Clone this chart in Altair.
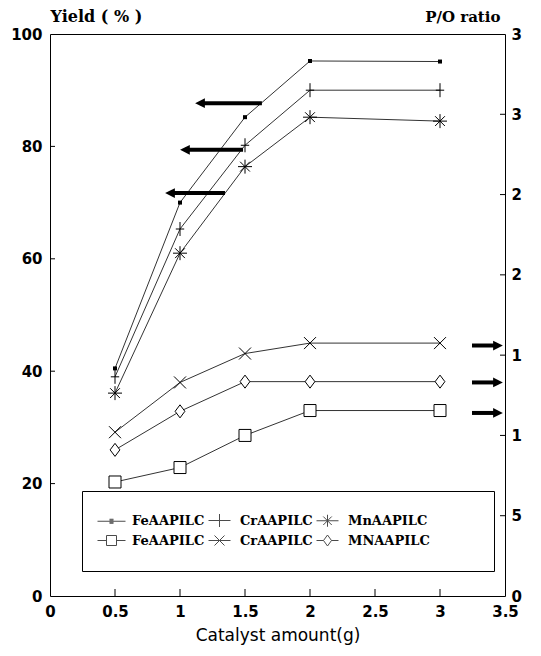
import altair as alt
import pandas as pd

# ---------------- data ----------------
catalyst = [0.5, 1.0, 1.5, 2.0, 3.0]
yield_fe = [40.5, 70.0, 85.2, 95.2, 95.1]
yield_cr = [39.0, 65.3, 80.2, 90.0, 90.0]
yield_mn = [36.1, 61.0, 76.4, 85.2, 84.5]
po_fe = [0.71, 0.80, 1.00, 1.155, 1.155]
po_cr = [1.02, 1.33, 1.51, 1.575, 1.575]
po_mn = [0.91, 1.15, 1.335, 1.335, 1.335]

x_ticks = [0, 0.5, 1, 1.5, 2, 2.5, 3, 3.5]
x_inner_ticks = [0.5, 1, 1.5, 2, 2.5, 3]
yield_ticks = [0, 20, 40, 60, 80, 100]
yield_inner_ticks = [20, 40, 60, 80]
po_ticks = [0, 0.5, 1, 1.5, 2, 2.5, 3, 3.5]
po_inner_ticks = [0.5, 1, 1.5, 2, 2.5, 3]

# legend entries in column-major order (2 rows x 3 columns)
legend_keys = ["fe_y", "fe_po", "cr_y", "cr_po", "mn_y", "mn_po"]
legend_labels = ["FeAAPILC", "FeAAPILC", "CrAAPILC", "CrAAPILC", "MnAAPILC", "MNAAPILC"]

left_arrow_head = [1.154, 1.038, 0.923]
left_arrow_tail = [1.63, 1.485, 1.346]
left_arrow_y = [87.7, 79.4, 71.7]
right_arrow_tail = [3.246, 3.246, 3.246]
right_arrow_head = [3.446, 3.446, 3.446]
right_arrow_y = [1.56, 1.33, 1.14]

# ---------------- styles ----------------
W, H = 455, 562
TICK_FONT = "DejaVu Sans"
SERIF = "DejaVu Serif"

P_DOT = "square"
P_PLUS = "M0,-1V1M-0.6,0H0.6"
P_STAR = "M0,-1V1M-1,0H1M-0.7,-0.7L0.7,0.7M-0.7,0.7L0.7,-0.7"
P_X = "M-1,-1L1,1M-1,1L1,-1"
P_DIAMOND = "M0,-1L0.75,0L0,1L-0.75,0Z"
P_SQUARE = "M-1,-1H1V1H-1Z"

L_DOT = "M-2.8,0H2.8M-0.4,-0.4H0.4M-0.4,-0.2H0.4M-0.4,0.2H0.4M-0.4,0.4H0.4"
L_PLUS = "M-2.2,0H2.2M0,-1.3V1.3"
L_STAR = "M-2.2,0H2.2M0,-1.2V1.2M-0.85,-0.85L0.85,0.85M-0.85,0.85L0.85,-0.85"
L_SQUARE = "M-2.8,0H-1M1,0H2.8M-1,-1H1V1H-1Z"
L_X = "M-2.2,0H2.2M-1,-1L1,1M-1,1L1,-1"
L_DIAMOND = "M-2.2,0H-0.8M0.8,0H2.2M0,-1.1L0.8,0L0,1.1L-0.8,0Z"
legend_paths = [L_DOT, L_SQUARE, L_PLUS, L_X, L_STAR, L_DIAMOND]

HEAD_LEFT = "M-1,0L1,-1L1,1Z"
HEAD_RIGHT = "M1,0L-1,-1L-1,1Z"

x_scale = alt.Scale(domain=[0, 3.5], nice=False, zero=False)
x_axis = alt.Axis(values=x_ticks, title="Catalyst amount(g)", format="~g", labelFlush=False,
                  labelOverlap=False, ticks=False, domain=False, grid=False,
                  labelPadding=8, labelFont=TICK_FONT, labelFontSize=15,
                  labelFontWeight="bold", labelColor="black",
                  titleFont=TICK_FONT, titleFontSize=17, titleFontWeight="normal",
                  titleColor="black", titleY=31, titleBaseline="top")
y_scale = alt.Scale(domain=[0, 100], nice=False, zero=True)
y_axis = alt.Axis(values=yield_ticks, title="Yield ( % )", orient="left",
                  labelOverlap=False, ticks=False, domain=False, grid=False,
                  labelPadding=8, labelFont=TICK_FONT, labelFontSize=15,
                  labelFontWeight="bold", labelColor="black",
                  titleFont=SERIF, titleFontSize=16, titleFontWeight="bold",
                  titleColor="black", titleAngle=0, titleX=0, titleY=-13,
                  titleAlign="left", titleBaseline="alphabetic")
po_scale = alt.Scale(domain=[0, 3.5], nice=False, zero=True)
po_axis = alt.Axis(values=po_ticks, title="P/O ratio", orient="right",
                   labelExpr="datum.value == 0.5 ? '5' : '' + floor(datum.value)",
                   labelOverlap=False, ticks=False, domain=False, grid=False,
                   labelPadding=6, labelFont=TICK_FONT, labelFontSize=15,
                   labelFontWeight="bold", labelColor="black",
                   titleFont=SERIF, titleFontSize=15, titleFontWeight="bold",
                   titleColor="black", titleAngle=0, titleX=-5, titleY=-13,
                   titleAlign="right", titleBaseline="alphabetic")


def X():
    return alt.X("x:Q", scale=x_scale, axis=x_axis)


def Y():
    return alt.Y("y:Q", scale=y_scale, axis=y_axis)


def YP():
    return alt.Y("y:Q", scale=po_scale, axis=po_axis)


def long(series_dict):
    rows = []
    for name, vals in series_dict.items():
        for xv, yv in zip(catalyst, vals):
            rows.append({"series": name, "x": xv, "y": yv})
    return pd.DataFrame(rows)


yield_df = long({"fe": yield_fe, "cr": yield_cr, "mn": yield_mn})
po_df = long({"fe": po_fe, "cr": po_cr, "mn": po_mn})

LINE_COLOR = "#333333"

# ---------------- left (yield) layer ----------------
y_lines = alt.Chart(yield_df).mark_line(color=LINE_COLOR, strokeWidth=1).encode(
    x=X(), y=Y(), detail="series:N")

y_marks = []
for name, shape, size, filled in [("fe", P_DOT, 16, True), ("cr", P_PLUS, 196, False),
                                  ("mn", P_STAR, 196, False)]:
    y_marks.append(
        alt.Chart(yield_df).transform_filter(alt.datum.series == name)
        .mark_point(shape=shape, size=size, filled=filled, color="black",
                    strokeWidth=1, opacity=1)
        .encode(x=X(), y=Y()))

la_df = pd.DataFrame({"x": left_arrow_tail, "x2": left_arrow_head, "y": left_arrow_y})
la_rule = alt.Chart(la_df).mark_rule(color="black", strokeWidth=4).encode(
    x=X(), x2="x2:Q", y=Y())
la_head = alt.Chart(la_df).mark_point(shape=HEAD_LEFT, size=95, filled=True,
                                      color="black", opacity=1).encode(
    x=alt.X("x2:Q", scale=x_scale, axis=x_axis), y=Y())

xt = alt.Chart(pd.DataFrame({"x": x_inner_ticks})).mark_rule(color="black", strokeWidth=1).encode(
    x=X(), y=alt.value(H), y2=alt.value(H - 7))
yt = alt.Chart(pd.DataFrame({"y": yield_inner_ticks})).mark_rule(color="black", strokeWidth=1).encode(
    y=Y(), x=alt.value(0), x2=alt.value(5))

NB = "\u00a0"
label_expr = ""
for k, lab in zip(legend_keys, legend_labels):
    pad = (NB * 9 + "\u200b") if k.startswith("mn") else ""
    label_expr += f"datum.label == '{k}' ? '{lab}{pad}' : "
label_expr += "''"

legend_df = pd.DataFrame({"k": legend_keys, "x": [1.0] * 6, "y": [50.0] * 6})
legend_layer = alt.Chart(legend_df).transform_filter("false").mark_point(
    color="black", filled=False, strokeWidth=1).encode(
    x=X(), y=Y(),
    shape=alt.Shape("k:N", scale=alt.Scale(domain=legend_keys, range=legend_paths),
                    legend=alt.Legend(
                        title=None, orient="none", legendX=32, legendY=457,
                        columns=3, labelExpr=label_expr, symbolSize=100,
                        symbolStrokeWidth=1, symbolStrokeColor="black",
                        symbolFillColor="white", labelFont=SERIF, labelFontSize=13,
                        labelFontWeight="bold", labelLimit=300,
                        labelColor="black", strokeColor="black", fillColor="white",
                        padding=23, rowPadding=4, columnPadding=1, labelOffset=14)))

left = alt.layer(y_lines, *y_marks, la_rule, la_head, xt, yt, legend_layer)

# ---------------- right (P/O) layer ----------------
p_lines = alt.Chart(po_df).mark_line(color=LINE_COLOR, strokeWidth=1).encode(
    x=X(), y=YP(), detail="series:N")
p_marks = []
for name, shape, size in [("fe", P_SQUARE, 144), ("cr", P_X, 144), ("mn", P_DIAMOND, 170)]:
    p_marks.append(
        alt.Chart(po_df).transform_filter(alt.datum.series == name)
        .mark_point(shape=shape, size=size, filled=True, fill="white", stroke="black",
                    strokeWidth=1, opacity=1)
        .encode(x=X(), y=YP()))

ra_df = pd.DataFrame({"x": right_arrow_tail, "x2": right_arrow_head, "y": right_arrow_y})
ra_rule = alt.Chart(ra_df).mark_rule(color="black", strokeWidth=4).encode(
    x=X(), x2="x2:Q", y=YP())
ra_head = alt.Chart(ra_df).mark_point(shape=HEAD_RIGHT, size=95, filled=True,
                                      color="black", opacity=1).encode(
    x=alt.X("x2:Q", scale=x_scale, axis=x_axis), y=YP())
pt = alt.Chart(pd.DataFrame({"y": po_inner_ticks})).mark_rule(color="black", strokeWidth=1).encode(
    y=YP(), x=alt.value(W - 5), x2=alt.value(W))

right = alt.layer(p_lines, *p_marks, ra_rule, ra_head, pt)

chart = alt.layer(left, right).resolve_scale(y="independent").properties(
    width=W, height=H,
    autosize=alt.AutoSizeParams(type="none"),
    padding={"left": 42, "top": 26, "right": 28, "bottom": 52},
    background="white",
).configure_view(stroke="black", strokeWidth=1)

chart.save("out.html", embed_options={"renderer": "svg", "actions": False})
